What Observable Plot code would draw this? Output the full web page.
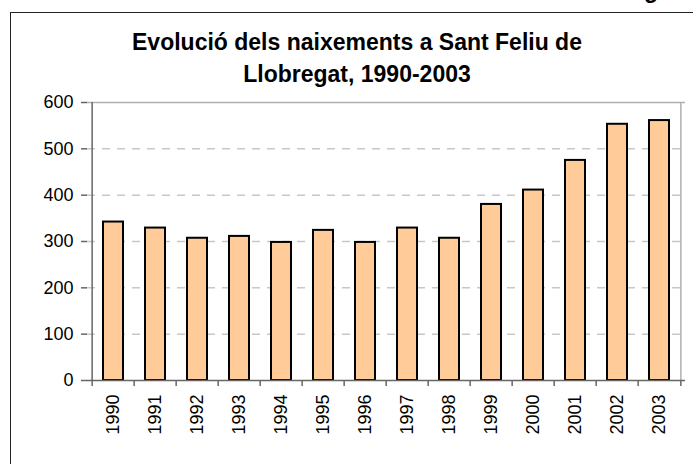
<!DOCTYPE html>
<html>
<head>
<meta charset="utf-8">
<script src="https://cdn.jsdelivr.net/npm/d3@7"></script>
<script src="https://cdn.jsdelivr.net/npm/@observablehq/plot@0.6"></script>
<style>
  html, body { margin: 0; padding: 0; background: #fff; }
  #wrap { position: relative; width: 693px; height: 464px; overflow: hidden; font-family: "Liberation Sans", Arial, sans-serif; }
  #frame { position: absolute; left: 10px; top: 12px; width: 720px; height: 520px; border: 1px solid #222; box-sizing: border-box; }
  #title { position: absolute; left: 0; top: 26px; width: 714px; text-align: center; font-weight: bold; font-size: 23px; line-height: 32px; color: #000; }
  #corner { position: absolute; left: 644px; top: -21px; font-size: 23px; line-height: 23px; font-weight: bold; color: #000; }
  #chart { position: absolute; left: 0; top: 0; }
</style>
</head>
<body>
<div id="wrap">
  <div id="corner">g</div>
  <div id="frame"></div>
  <div id="chart"></div>
  <div id="title">Evolució dels naixements a Sant Feliu de<br>Llobregat, 1990-2003</div>
</div>
<script>
const years = ["1990","1991","1992","1993","1994","1995","1996","1997","1998","1999","2000","2001","2002","2003"];
const births = [342, 329, 307, 311, 298, 324, 298, 329, 307, 380, 411, 475, 553, 561];
const yTicks = [0, 100, 200, 300, 400, 500, 600];
const gridTicks = [100, 200, 300, 400, 500];

const data = years.map((y, i) => ({year: y, value: births[i]}));

const W = 693, H = 464, ML = 87, MR = 8, MT = 102, MB = 84;
const step = (W - ML - MR) / years.length;
const axisColor = "#666";

const chart = Plot.plot({
  width: W,
  height: H,
  marginLeft: ML,
  marginRight: MR,
  marginTop: MT,
  marginBottom: MB,
  style: { fontFamily: "Liberation Sans, Arial, sans-serif", fontSize: "18px", color: "#000", background: "transparent" },
  x: { domain: years, paddingInner: 0.52, paddingOuter: 0.26, label: null },
  y: { domain: [0, 600], label: null },
  marks: [
    Plot.gridY(gridTicks, { stroke: "#c8c8c8", strokeOpacity: 1, strokeDasharray: "8,7", strokeWidth: 1.5 }),
    Plot.ruleY([600], { stroke: "#b0b0b0", strokeWidth: 1.5 }),
    Plot.ruleX([years[years.length - 1]], { dx: step / 2, stroke: "#b0b0b0", strokeWidth: 1.5 }),
    Plot.barY(data, { x: "year", y: "value", fill: "#FFCC99", stroke: "#000", strokeWidth: 2 }),
    Plot.ruleX([years[0]], { dx: -step / 2, stroke: axisColor, strokeWidth: 1.5 }),
    Plot.ruleY([0], { stroke: axisColor, strokeWidth: 1.5 }),
    Plot.ruleX(years, { x: d => d, y1: 0, y2: 0, dx: -step / 2, insetBottom: -6, stroke: axisColor, strokeWidth: 1.5 }),
    Plot.ruleX([years[years.length - 1]], { x: d => d, y1: 0, y2: 0, dx: step / 2, insetBottom: -6, stroke: axisColor, strokeWidth: 1.5 }),
    Plot.axisY(yTicks, { tickSize: 6, tickPadding: 8, stroke: axisColor, strokeWidth: 1.5, fill: "#000", fontSize: 18, label: null }),
    Plot.axisX({ tickSize: 0, tickPadding: 14, tickRotate: -90, fill: "#000", fontSize: 18, label: null })
  ]
});
document.getElementById("chart").appendChild(chart);
</script>
</body>
</html>
